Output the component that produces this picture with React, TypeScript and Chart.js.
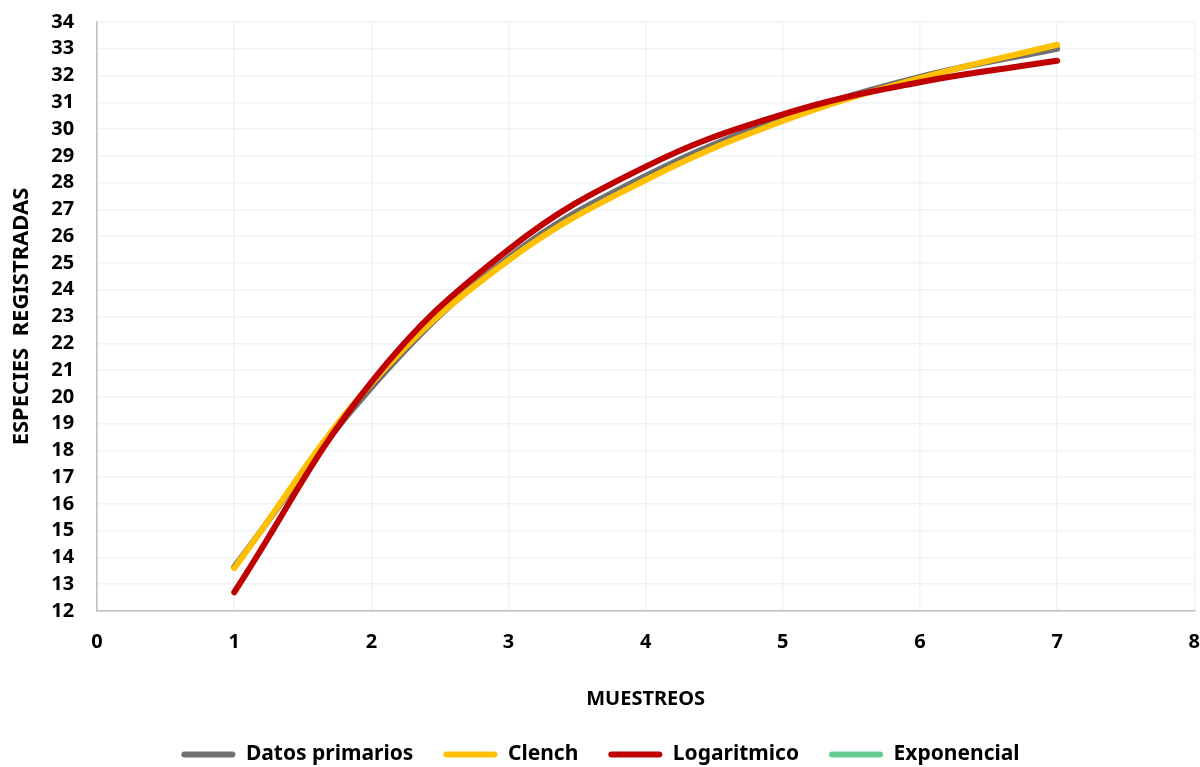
import React, { useEffect, useRef } from "react";
import { Chart, registerables } from "chart.js";

Chart.register(...registerables);

const muestreos = [1, 2, 3, 4, 5, 6, 7];
const datosPrimarios = [13.65, 20.35, 25.2, 28.25, 30.4, 31.95, 33.0];
const clench = [13.6, 20.5, 25.1, 28.1, 30.3, 31.9, 33.15];
const logaritmico = [12.7, 20.55, 25.5, 28.6, 30.55, 31.75, 32.55];
const exponencial: number[] = [];

const seriesNames = ["Datos primarios", "Clench", "Logaritmico", "Exponencial"];
const seriesColors = ["#717171", "#FFC000", "#C00000", "#66CC92"];

const FONT = "'Noto Sans', 'DejaVu Sans', sans-serif";

export default function App() {
  const canvasRef = useRef<HTMLCanvasElement | null>(null);

  useEffect(() => {
    document.body.style.margin = "0";
    const canvas = canvasRef.current;
    if (!canvas) return;
    const allSeries = [datosPrimarios, clench, logaritmico, exponencial];
    const chart = new Chart(canvas, {
      type: "line",
      data: {
        datasets: allSeries.map((vals, i) => ({
          label: seriesNames[i],
          data: vals.map((v, j) => ({ x: muestreos[j], y: v })),
          borderColor: seriesColors[i],
          backgroundColor: seriesColors[i],
          borderWidth: 6,
          borderCapStyle: "round" as const,
          pointRadius: 0,
          tension: 0.4,
          fill: false,
          order: allSeries.length - i,
        })),
      },
      options: {
        animation: false,
        responsive: false,
        layout: { padding: { left: 1, right: 0, top: 22, bottom: -8 } },
        scales: {
          x: {
            type: "linear",
            min: 0,
            max: 8,
            ticks: {
              stepSize: 1,
              autoSkip: false,
              color: "#000",
              padding: 0,
              font: { family: FONT, size: 20, weight: "bold" },
            },
            grid: {
              color: "#EEF3F8",
              lineWidth: 1.5,
              drawTicks: true,
              tickLength: 19,
              tickColor: "rgba(0,0,0,0)",
            },
            border: { color: "#BFBFBF", width: 1.5 },
            title: {
              display: true,
              text: "MUESTREOS",
              color: "#000",
              padding: { top: 33, bottom: 3 },
              font: { family: FONT, size: 20, weight: "bold" },
            },
          },
          y: {
            min: 12,
            max: 34,
            ticks: {
              stepSize: 1,
              autoSkip: false,
              color: "#000",
              padding: 0,
              font: { family: FONT, size: 20, weight: "bold", lineHeight: 1 },
            },
            grid: {
              color: "#EEF3F8",
              lineWidth: 1.5,
              drawTicks: true,
              tickLength: 23,
              tickColor: "rgba(0,0,0,0)",
            },
            border: { color: "#BFBFBF", width: 1.5 },
            title: {
              display: true,
              text: "ESPECIES  REGISTRADAS",
              color: "#000",
              padding: { top: 9, bottom: 17 },
              font: { family: FONT, size: 22, weight: "bold", lineHeight: 1.1 },
            },
          },
        },
        plugins: {
          legend: {
            position: "bottom",
            labels: {
              color: "#000",
              boxWidth: 54,
              boxHeight: 6,
              useBorderRadius: true,
              borderRadius: 3,
              padding: 30,
              font: { family: FONT, size: 21, weight: "bold" },
              generateLabels: (c: any) =>
                c.data.datasets.map((ds: any, i: number) => ({
                  text: ds.label,
                  fillStyle: ds.borderColor,
                  strokeStyle: ds.borderColor,
                  lineWidth: 0,
                  fontColor: "#000",
                  hidden: false,
                  datasetIndex: i,
                  borderRadius: 3,
                })),
            },
          },
          tooltip: { enabled: false },
        },
      },
    });
    return () => chart.destroy();
  }, []);

  return (
    <div style={{ width: 1200, height: 767 }}>
      <canvas ref={canvasRef} width={1200} height={767} />
    </div>
  );
}
